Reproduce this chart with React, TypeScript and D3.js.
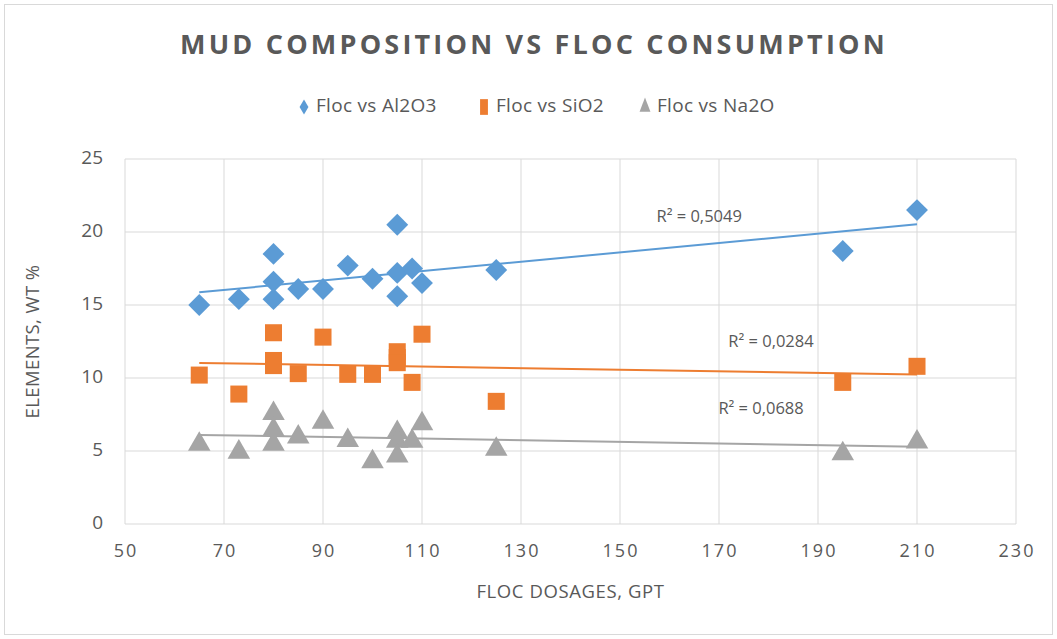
import * as d3 from "d3";
import React, { useEffect, useRef } from "react";

// floc dosage (gpt) — shared x for all three series
const flocDosage = [65, 73, 80, 80, 80, 85, 90, 95, 100, 105, 105, 105, 108, 110, 125, 195, 210];
const al2o3 = [15.0, 15.4, 18.5, 16.6, 15.4, 16.1, 16.1, 17.7, 16.8, 20.5, 17.2, 15.6, 17.5, 16.5, 17.4, 18.7, 21.5];
const sio2 = [10.2, 8.9, 13.1, 11.2, 10.85, 10.3, 12.8, 10.25, 10.25, 11.8, 11.4, 11.05, 9.7, 13.0, 8.4, 9.7, 10.8];
const na2o = [5.6, 5.06, 7.7, 6.6, 5.6, 6.1, 7.1, 5.85, 4.4, 6.4, 5.8, 4.8, 5.8, 7.0, 5.25, 4.95, 5.75];

const seriesNames = ["Floc vs Al2O3", "Floc vs SiO2", "Floc vs Na2O"];
const rSquaredLabels = ["R² = 0,5049", "R² = 0,0284", "R² = 0,0688"];
// where excel put the R² labels (data coords)
const rLabelX = [166, 180.5, 178.5];
const rLabelY = [21.0, 12.45, 7.85];

const xTicks = [50, 70, 90, 110, 130, 150, 170, 190, 210, 230];
const yTicks = [0, 5, 10, 15, 20, 25];

const colors = ["#5b9bd5", "#ed7d31", "#a5a5a5"];
const textColor = "#595959";
const font = "'Open Sans', sans-serif";

function linReg(xs: number[], ys: number[]) {
  const mx = d3.mean(xs)!;
  const my = d3.mean(ys)!;
  let num = 0;
  let den = 0;
  xs.forEach((x, i) => {
    num += (x - mx) * (ys[i] - my);
    den += (x - mx) * (x - mx);
  });
  const slope = num / den;
  return { slope, intercept: my - slope * mx };
}

const App: React.FC = () => {
  const svgRef = useRef<SVGSVGElement>(null);

  useEffect(() => {
    document.body.style.margin = "0";
    if (!svgRef.current) return;
    const svg = d3.select(svgRef.current);
    svg.selectAll("*").remove();

    const width = 1057;
    const height = 639;
    const margin = { top: 159, right: 41, bottom: 115, left: 125 };

    svg.attr("width", width).attr("height", height);

    svg
      .append("rect")
      .attr("x", 4.5)
      .attr("y", 4.5)
      .attr("width", width - 9)
      .attr("height", height - 9)
      .attr("fill", "white")
      .attr("stroke", "#d9d9d9");

    const x = d3.scaleLinear().domain([50, 230]).range([margin.left, width - margin.right]);
    const y = d3.scaleLinear().domain([0, 25]).range([height - margin.bottom, margin.top]);

    // gridlines
    svg
      .selectAll(".vgrid")
      .data(xTicks)
      .join("line")
      .attr("x1", (d) => x(d))
      .attr("x2", (d) => x(d))
      .attr("y1", y(0))
      .attr("y2", y(25))
      .attr("stroke", "#d9d9d9")
      .attr("stroke-width", 1);
    svg
      .selectAll(".hgrid")
      .data(yTicks)
      .join("line")
      .attr("x1", x(50))
      .attr("x2", x(230))
      .attr("y1", (d) => y(d))
      .attr("y2", (d) => y(d))
      .attr("stroke", "#d9d9d9")
      .attr("stroke-width", 1);

    // tick labels
    svg
      .selectAll(".xt")
      .data(xTicks)
      .join("text")
      .attr("x", (d) => x(d) + 1)
      .attr("y", y(0) + 28)
      .attr("text-anchor", "middle")
      .attr("dominant-baseline", "middle")
      .attr("fill", textColor)
      .style("font-family", font)
      .style("font-size", "18px")
      .style("letter-spacing", "2px")
      .text((d) => d);
    svg
      .selectAll(".yt")
      .data(yTicks)
      .join("text")
      .attr("x", x(50) - 22)
      .attr("y", (d) => y(d))
      .attr("text-anchor", "end")
      .attr("dominant-baseline", "middle")
      .attr("fill", textColor)
      .style("font-family", font)
      .style("font-size", "19px")
      .text((d) => d);

    // axis titles
    svg
      .append("text")
      .attr("x", (x(50) + x(230)) / 2)
      .attr("y", 593)
      .attr("text-anchor", "middle")
      .attr("dominant-baseline", "middle")
      .attr("fill", textColor)
      .style("font-family", font)
      .style("font-size", "18.5px")
      .style("letter-spacing", "0.6px")
      .text("FLOC DOSAGES, GPT");
    svg
      .append("text")
      .attr("transform", `translate(34,${(y(0) + y(25)) / 2}) rotate(-90)`)
      .attr("text-anchor", "middle")
      .attr("dominant-baseline", "middle")
      .attr("fill", textColor)
      .style("font-family", font)
      .style("font-size", "18.5px")
      .style("letter-spacing", "0.4px")
      .text("ELEMENTS, WT %");

    // title
    svg
      .append("text")
      .attr("x", 534)
      .attr("y", 47)
      .attr("text-anchor", "middle")
      .attr("dominant-baseline", "middle")
      .attr("fill", textColor)
      .style("font-family", font)
      .style("font-size", "27px")
      .style("font-weight", "700")
      .style("letter-spacing", "3.2px")
      .text("MUD COMPOSITION VS FLOC CONSUMPTION");

    const allY = [al2o3, sio2, na2o];

    const symbolPath = (i: number, size: number) =>
      d3.symbol(i === 2 ? d3.symbolTriangle : d3.symbolSquare, size)();

    // trendlines
    allY.forEach((ys, i) => {
      const { slope, intercept } = linReg(flocDosage, ys);
      const [x0, x1] = d3.extent(flocDosage) as [number, number];
      svg
        .append("line")
        .attr("x1", x(x0))
        .attr("y1", y(slope * x0 + intercept))
        .attr("x2", x(x1))
        .attr("y2", y(slope * x1 + intercept))
        .attr("stroke", colors[i])
        .attr("stroke-width", 2);
    });

    // markers
    allY.forEach((ys, i) => {
      const pts = flocDosage.map((fx, k) => [fx, ys[k]] as [number, number]);
      const sizes = [240, 290, 220];
      svg
        .append("g")
        .selectAll("path")
        .data(pts)
        .join("path")
        .attr("d", symbolPath(i, sizes[i]))
        .attr(
          "transform",
          (d) =>
            `translate(${x(d[0])},${y(d[1])})` + (i === 0 ? " rotate(45)" : i === 2 ? " translate(0,2)" : "")
        )
        .attr("fill", colors[i]);
    });

    // R² labels
    svg
      .selectAll(".r2")
      .data(rSquaredLabels)
      .join("text")
      .attr("x", (_, i) => x(rLabelX[i]))
      .attr("y", (_, i) => y(rLabelY[i]))
      .attr("text-anchor", "middle")
      .attr("dominant-baseline", "middle")
      .attr("fill", textColor)
      .style("font-family", font)
      .style("font-size", "16.5px")
      .text((d) => d);

    // legend
    const legendX = [304, 484, 645];
    const legendY = 107;
    const lg = svg.append("g");
    seriesNames.forEach((name, i) => {
      const size = [70, 110, 80][i];
      lg.append("path")
        .attr("d", symbolPath(i, size))
        .attr(
          "transform",
          `translate(${legendX[i]},${legendY})` +
            (i === 0 ? " scale(0.75,1.25) rotate(45)" : i === 1 ? " scale(0.75,1.5)" : " scale(0.8,1.2)")
        )
        .attr("fill", colors[i]);
      lg.append("text")
        .attr("x", legendX[i] + 12)
        .attr("y", legendY)
        .attr("dominant-baseline", "middle")
        .attr("fill", textColor)
        .style("font-family", font)
        .style("font-size", "19px")
        .style("letter-spacing", "0.3px")
        .text(name);
    });
  }, []);

  return <svg ref={svgRef} style={{ display: "block" }} />;
};

export default App;
